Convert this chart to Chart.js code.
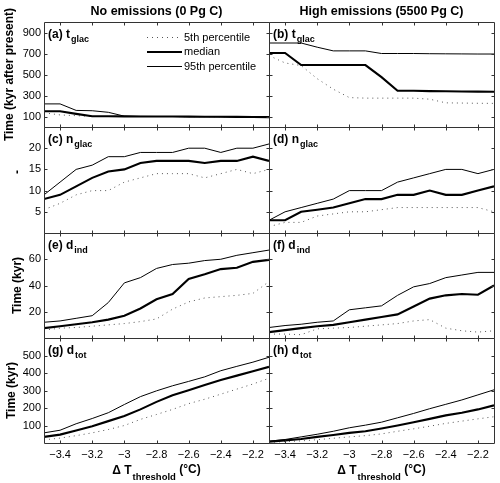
<!DOCTYPE html>
<html><head><meta charset="utf-8">
<script src="https://cdn.jsdelivr.net/npm/chart.js@4.4.0/dist/chart.umd.min.js"></script>
<style>
html,body{margin:0;padding:0;background:#fff;}
#wrap{position:relative;width:500px;height:483px;background:#fff;}
#wrap canvas{position:absolute;left:0;top:0;}
</style></head>
<body><div id="wrap"></div>
<script>
// ---------- data ----------
const xValues = [-3.5,-3.4,-3.3,-3.2,-3.1,-3.0,-2.9,-2.8,-2.7,-2.6,-2.5,-2.4,-2.3,-2.2,-2.1];
const xTicks = [-3.4,-3.2,-3.0,-2.8,-2.6,-2.4,-2.2];

const tglacTicks = [100,300,500,700,900];
const nglacTicks = [5,10,15,20];
const dindTicks = [20,40,60];
const dtotTicks = [100,200,300,400,500];

// (a) no emissions, t_glac
const noTglacP5  = [135,115,108,100,100,100,100,100,100,98,98,97,96,95,94];
const noTglacMed = [150,150,125,102,102,101,100,100,100,99,98,97,96,95,94];
const noTglacP95 = [220,220,158,155,140,103,101,100,100,99,98,97,96,95,94];
// (b) high emissions, t_glac
const hiTglacP5  = [680,610,585,460,360,280,275,275,275,275,265,230,228,226,225];
const hiTglacMed = [705,705,590,590,590,590,590,475,345,345,342,340,338,337,335];
const hiTglacP95 = [800,800,800,760,725,725,725,700,700,700,698,697,696,695,695];
// (c) no emissions, n_glac
const noNglacP5  = [5.5,7,9,10,10,12,13,14,14,14,13,14,15,14,15];
const noNglacMed = [8,9,11,13,14.5,15,16.5,17,17,17,16.5,17,17,18,17];
const noNglacP95 = [9,12,15,16,18,18,19,19,19,20,20,19,20,20,21];
// (d) high emissions, n_glac
const hiNglacP5  = [1.5,2.5,2.5,4,4.5,5,5,5.5,6,6,6,6,6,6,5];
const hiNglacMed = [3,3,5,5.5,6,7,8,8,9,9,10,9,9,10,11];
const hiNglacP95 = [3,5,6,7,8,10,10,10,12,13,14,15,15,14,15];
// (e) no emissions, d_ind
const noDindP5  = [6,7.5,8,9,10,11,12.5,14.5,22,27.5,30.5,31.5,32.5,34,43];
const noDindMed = [7.5,9,10.5,12,14,17,22.5,29.5,33.5,45,48.5,52.5,53.5,58,59.5];
const noDindP95 = [12,13,15,17,27,42,46,53,56,57,59,60,63,65,67];
// (f) high emissions, d_ind
const hiDindP5  = [3,3,2.5,7,7.5,8,9,10,11,13,14,7.5,5.5,4.5,5.5];
const hiDindMed = [4.5,6,7.5,9,10,12,14,16,18,24,30,32.5,33.5,33,40];
const hiDindP95 = [8,9.5,10.5,12,13,21.5,23,24.5,32.5,39,41.5,46,48,50,50];
// (g) no emissions, d_tot
const noDtotP5  = [18,28,42,58,77,100,135,163,192,225,250,279,308,337,370];
const noDtotMed = [35,48,71,96,125,154,192,235,273,302,331,360,385,410,435];
const noDtotP95 = [58,73,110,140,173,220,265,298,327,352,378,413,438,462,490];
// (h) high emissions, d_tot
const hiDtotP5  = [4,8,12,19,27,35,42,52,67,81,96,112,125,138,150];
const hiDtotMed = [8,15,23,35,46,58,67,83,100,119,138,158,173,192,215];
const hiDtotP95 = [10,20,35,50,67,87,102,119,144,169,196,221,246,275,304];

const columnTitles = ['No emissions (0 Pg C)', 'High emissions (5500 Pg C)'];
const legendLabels = ['5th percentile', 'median', '95th percentile'];

// ---------- layout ----------
const FONT = '"Liberation Sans", Arial, Helvetica, sans-serif';
const colX = [[44, 269], [269, 494]];
const rowY = [[22, 127], [127, 233], [233, 338], [338, 443]];
const YAXIS_W = 40, XAXIS_H = 30;

const panels = [
  {row:0,col:0,tag:'(a) t',sub:'glac',yMax:1000,yTicks:tglacTicks,p5:noTglacP5,med:noTglacMed,p95:noTglacP95,ylabel:'Time (kyr after present)',ylx:13},
  {row:0,col:1,tag:'(b) t',sub:'glac',yMax:1000,yTicks:tglacTicks,p5:hiTglacP5,med:hiTglacMed,p95:hiTglacP95},
  {row:1,col:0,tag:'(c) n',sub:'glac',yMax:25,yTicks:nglacTicks,p5:noNglacP5,med:noNglacMed,p95:noNglacP95,ylabel:'-',ylx:20.5,yly:172},
  {row:1,col:1,tag:'(d) n',sub:'glac',yMax:25,yTicks:nglacTicks,p5:hiNglacP5,med:hiNglacMed,p95:hiNglacP95},
  {row:2,col:0,tag:'(e) d',sub:'ind',yMax:80,yTicks:dindTicks,p5:noDindP5,med:noDindMed,p95:noDindP95,ylabel:'Time (kyr)',ylx:20.5},
  {row:2,col:1,tag:'(f) d',sub:'ind',yMax:80,yTicks:dindTicks,p5:hiDindP5,med:hiDindMed,p95:hiDindP95},
  {row:3,col:0,tag:'(g) d',sub:'tot',yMax:600,yTicks:dtotTicks,p5:noDtotP5,med:noDtotMed,p95:noDtotP95,ylabel:'Time (kyr)',ylx:14.5},
  {row:3,col:1,tag:'(h) d',sub:'tot',yMax:600,yTicks:dtotTicks,p5:hiDtotP5,med:hiDtotMed,p95:hiDtotP95}
];

const STY = {
  p5:  {borderColor:'#555', borderWidth:1, borderDash:[1,4]},
  med: {borderColor:'#000', borderWidth:2.1, borderDash:[]},
  p95: {borderColor:'#000', borderWidth:1, borderDash:[]}
};

function pts(arr){ return arr.map((v,i)=>({x:xValues[i], y:v})); }
function fmtX(v){ return (v<0?'\u2212':'') + String(Math.abs(v)); }

function makeDecor(p){
  return {
    id:'decor',
    afterDraw(chart){
      const ctx = chart.ctx, a = chart.chartArea, xs = chart.scales.x, ys = chart.scales.y;
      const l = Math.round(a.left)+0.5, r = Math.round(a.right)+0.5, t = Math.round(a.top)+0.5, b = Math.round(a.bottom)+0.5;
      ctx.save();
      ctx.strokeStyle = '#333'; ctx.lineWidth = 1; ctx.setLineDash([]);
      ctx.beginPath();
      ctx.rect(l, t, r-l, b-t);
      xTicks.forEach(v=>{
        const px = Math.round(xs.getPixelForValue(v))+0.5;
        ctx.moveTo(px,b); ctx.lineTo(px,b-3);
        ctx.moveTo(px,t); ctx.lineTo(px,t+3);
      });
      p.yTicks.forEach(v=>{
        const py = Math.round(ys.getPixelForValue(v))+0.5;
        ctx.moveTo(l,py); ctx.lineTo(l+3,py);
        ctx.moveTo(r,py); ctx.lineTo(r-3,py);
      });
      ctx.stroke();

      ctx.fillStyle = '#000';
      ctx.textBaseline = 'alphabetic'; ctx.textAlign = 'left';
      ctx.font = 'bold 12px ' + FONT;
      const tx = a.left + 4, ty = a.top + 15.5;
      ctx.fillText(p.tag, tx, ty);
      const tw = ctx.measureText(p.tag).width;
      ctx.font = 'bold 9px ' + FONT;
      ctx.fillText(p.sub, tx + tw + 1, ty + 4.5);

      if (p.row === 0){
        ctx.font = 'bold 12.5px ' + FONT;
        ctx.textAlign = 'center'; ctx.textBaseline = 'middle';
        ctx.fillText(columnTitles[p.col], (a.left+a.right)/2, 12);
      }
      if (p.ylabel){
        ctx.save();
        const cy = p.yly !== undefined ? p.yly : (a.top+a.bottom)/2;
        ctx.translate(p.ylx, cy);
        ctx.rotate(-Math.PI/2);
        ctx.font = 'bold 12px ' + FONT;
        ctx.textAlign = 'center'; ctx.textBaseline = 'alphabetic';
        ctx.fillText(p.ylabel, 0, 0);
        ctx.restore();
      }
      if (p.row === 3){
        const main1 = '\u0394 T', sub = 'threshold', main2 = ' (\u00B0C)';
        ctx.textAlign = 'left'; ctx.textBaseline = 'alphabetic';
        ctx.font = 'bold 12px ' + FONT; const w1 = ctx.measureText(main1).width, w3 = ctx.measureText(main2).width;
        ctx.font = 'bold 9.5px ' + FONT; const w2 = ctx.measureText(sub).width;
        const total = w1 + 1 + w2 + w3;
        const x0 = (a.left + a.right)/2 - total/2;
        const by = 474;
        ctx.font = 'bold 12px ' + FONT; ctx.fillText(main1, x0, by);
        ctx.font = 'bold 9.5px ' + FONT; ctx.fillText(sub, x0 + w1 + 1, by + 5.5);
        ctx.font = 'bold 12px ' + FONT; ctx.fillText(main2, x0 + w1 + 1 + w2, by - 1);
      }
      if (p.row === 0 && p.col === 0){
        const keys = ['p5','med','p95'];
        const ys0 = [37.5, 52, 66.5];
        ctx.font = '11px ' + FONT; ctx.textAlign = 'left'; ctx.textBaseline = 'middle';
        keys.forEach((k,i)=>{
          const s = STY[k];
          ctx.beginPath();
          ctx.strokeStyle = s.borderColor; ctx.lineWidth = s.borderWidth; ctx.setLineDash(s.borderDash);
          ctx.moveTo(147, ys0[i]); ctx.lineTo(182, ys0[i]); ctx.stroke();
          ctx.setLineDash([]);
          ctx.fillStyle = '#000';
          ctx.fillText(legendLabels[i], 184, ys0[i]);
        });
      }
      ctx.restore();
    }
  };
}

const wrap = document.getElementById('wrap');
panels.forEach(p=>{
  const cv = document.createElement('canvas');
  cv.width = 500; cv.height = 483;
  cv.style.width = '500px'; cv.style.height = '483px';
  wrap.appendChild(cv);
  const [L,R] = colX[p.col]; const [T,B] = rowY[p.row];
  const ds = (key, label, arr) => Object.assign({label, data: pts(arr), pointRadius:0, tension:0, fill:false, borderCapStyle:'butt'}, STY[key]);
  new Chart(cv, {
    type:'line',
    data:{datasets:[ ds('med','median',p.med), ds('p95','95th percentile',p.p95), ds('p5','5th percentile',p.p5) ]},
    options:{
      responsive:false, animation:false, devicePixelRatio:1, events:[],
      layout:{padding:{left:L-YAXIS_W, right:500-R, top:T, bottom:483-B-XAXIS_H}},
      plugins:{legend:{display:false}, tooltip:{enabled:false}, title:{display:false}},
      scales:{
        x:{type:'linear', min:-3.5, max:-2.1,
           afterFit(s){ s.height = XAXIS_H; },
           afterBuildTicks(s){ s.ticks = xTicks.map(v=>({value:v})); },
           grid:{display:false, drawTicks:false}, border:{display:false},
           ticks:{display: p.row===3, autoSkip:false, maxRotation:0, minRotation:0, padding:5, color:'#000',
                  font:{family:FONT, size:11}, callback: fmtX}},
        y:{type:'linear', min:0, max:p.yMax,
           afterFit(s){ s.width = YAXIS_W; },
           afterBuildTicks(s){ s.ticks = p.yTicks.map(v=>({value:v})); },
           grid:{display:false, drawTicks:false}, border:{display:false},
           ticks:{display: p.col===0, autoSkip:false, padding:3, color:'#000',
                  font:{family:FONT, size:11}, callback: v=>String(v)}}
      }
    },
    plugins:[makeDecor(p)]
  });
});
</script>
</body></html>
